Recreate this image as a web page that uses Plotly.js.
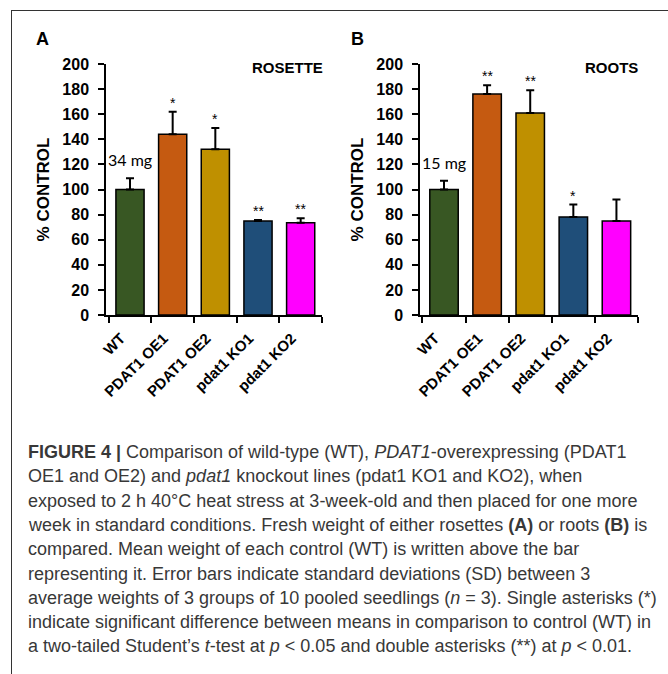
<!DOCTYPE html>
<html>
<head>
<meta charset="utf-8">
<script src="https://cdn.plot.ly/plotly-3.0.1.min.js"></script>
<style>html,body{margin:0;padding:0;background:#fff;}#chart{width:668px;height:674px;}</style>
</head>
<body>
<div id="chart"></div>
<script>
// ---- data ----
const categories = ["WT", "PDAT1 OE1", "PDAT1 OE2", "pdat1 KO1", "pdat1 KO2"];
const barColors = ["#385723", "#C55A11", "#BF9000", "#1F4E79", "#FF00FF"];
const rosetteValues = [100, 144, 132, 75, 73.5];
const rosetteErrors = [9, 18, 17, 0.7, 3.5];
const rosetteSig = ["", "*", "*", "**", "**"];
const rootValues = [100, 176, 161, 78, 75];
const rootErrors = [7, 7, 18, 10, 17];
const rootSig = ["", "**", "**", "*", ""];
const controlLabels = ["34 mg", "15 mg"];
const panelTitles = ["ROSETTE", "ROOTS"];
const panelLetters = ["A", "B"];
const captionLines = [
  "<b>FIGURE 4 |</b> Comparison of wild-type (WT), <i>PDAT1</i>-overexpressing (PDAT1",
  "OE1 and OE2) and <i>pdat1</i> knockout lines (pdat1 KO1 and KO2), when",
  "exposed to 2 h 40°C heat stress at 3-week-old and then placed for one more",
  "week in standard conditions. Fresh weight of either rosettes <b>(A)</b> or roots <b>(B)</b> is",
  "compared. Mean weight of each control (WT) is written above the bar",
  "representing it. Error bars indicate standard deviations (SD) between 3",
  "average weights of 3 groups of 10 pooled seedlings (<i>n</i> = 3). Single asterisks (*)",
  "indicate significant difference between means in comparison to control (WT) in",
  "a two-tailed Student’s <i>t</i>-test at <i>p</i> &lt; 0.05 and double asterisks (**) at <i>p</i> &lt; 0.01."
];

// ---- layout helpers ----
const W = 668, H = 674;
const px = v => v / W;
const py = v => 1 - v / H;
const AX = "Liberation Sans, Arial, sans-serif";

function barTrace(values, errors, xa, ya) {
  return {
    type: "bar", x: categories, y: values, xaxis: xa, yaxis: ya,
    marker: {color: barColors, line: {color: "#000", width: 1.5}},
    error_y: {type: "data", symmetric: false, array: errors, arrayminus: values.map(() => 0),
              color: "#000", thickness: 2, width: 4},
    hoverinfo: "x+y", showlegend: false
  };
}

const data = [
  barTrace(rosetteValues, rosetteErrors, "x", "y"),
  barTrace(rootValues, rootErrors, "x2", "y2")
];

function xAxis(domain, anchor) {
  return {
    domain: domain, anchor: anchor, type: "category",
    showline: true, linecolor: "#000", linewidth: 1.5,
    ticks: "outside", tickson: "boundaries", ticklen: 6, tickcolor: "#000", tickwidth: 1.5,
    tickangle: -45, tickfont: {family: AX, size: 15, color: "#000", weight: "bold"},
    ticklabelstandoff: 7, ticklabelshift: -9,
    showgrid: false, zeroline: false, fixedrange: true
  };
}
function yAxis(anchor) {
  return {
    domain: [py(315), py(64)], anchor: anchor, range: [0, 200], dtick: 20,
    showline: true, linecolor: "#000", linewidth: 1.5,
    ticks: "outside", ticklen: 6, tickcolor: "#000", tickwidth: 1.5,
    tickfont: {family: AX, size: 16, color: "#000", weight: "bold"},
    ticklabelstandoff: 6,
    showgrid: false, zeroline: false, fixedrange: true,
    title: {text: "% CONTROL", font: {family: AX, size: 17, color: "#000", weight: "bold"}, standoff: 8}
  };
}

const annotations = [];
function sigAnnotations(values, errors, sig, xr, yr) {
  categories.forEach((c, i) => {
    if (!sig[i]) return;
    annotations.push({xref: xr, yref: yr, x: c, y: values[i] + errors[i], text: sig[i],
      showarrow: false, yanchor: "bottom", yshift: -1,
      font: {family: AX, size: 14, color: "#000"}});
  });
}
sigAnnotations(rosetteValues, rosetteErrors, rosetteSig, "x", "y");
sigAnnotations(rootValues, rootErrors, rootSig, "x2", "y2");

annotations.push({xref: "x", yref: "y", x: categories[0], y: rosetteValues[0] + rosetteErrors[0],
  text: controlLabels[0], showarrow: false, yanchor: "bottom", yshift: 7,
  font: {family: "Lato, sans-serif", size: 16, color: "#000"}});
annotations.push({xref: "x2", yref: "y2", x: categories[0], y: rootValues[0] + rootErrors[0],
  text: controlLabels[1], showarrow: false, yanchor: "bottom", yshift: 7,
  font: {family: "Lato, sans-serif", size: 16, color: "#000"}});

// panel titles
annotations.push({xref: "paper", yref: "paper", x: px(325), y: py(67), text: panelTitles[0],
  showarrow: false, xanchor: "right", yanchor: "middle",
  font: {family: AX, size: 15, color: "#000", weight: "bold"}});
annotations.push({xref: "paper", yref: "paper", x: px(640), y: py(67), text: panelTitles[1],
  showarrow: false, xanchor: "right", yanchor: "middle",
  font: {family: AX, size: 15, color: "#000", weight: "bold"}});
// panel letters
annotations.push({xref: "paper", yref: "paper", x: px(42), y: py(39), text: panelLetters[0],
  showarrow: false, xanchor: "center", yanchor: "middle",
  font: {family: AX, size: 18, color: "#000", weight: "bold"}});
annotations.push({xref: "paper", yref: "paper", x: px(358), y: py(39), text: panelLetters[1],
  showarrow: false, xanchor: "center", yanchor: "middle",
  font: {family: AX, size: 18, color: "#000", weight: "bold"}});

// caption
captionLines.forEach((t, i) => {
  annotations.push({xref: "paper", yref: "paper", x: px(26), y: py(452 + i * 24.3), text: t,
    showarrow: false, xanchor: "left", yanchor: "middle", align: "left",
    font: {family: AX, size: 18, color: "#383838"}});
});

const layout = {
  width: W, height: H, autosize: false,
  margin: {l: 0, r: 0, t: 0, b: 0, pad: 0},
  paper_bgcolor: "#fff", plot_bgcolor: "rgba(0,0,0,0)",
  bargap: 0.34,
  xaxis: xAxis([px(106), px(322)], "y"),
  yaxis: yAxis("x"),
  xaxis2: xAxis([px(420), px(638)], "y2"),
  yaxis2: yAxis("x2"),
  annotations: annotations,
  shapes: [
    {type: "line", xref: "paper", yref: "paper", x0: px(11), x1: 1, y0: py(10.5), y1: py(10.5),
     line: {color: "#333", width: 1}},
    {type: "line", xref: "paper", yref: "paper", x0: px(11.5), x1: px(11.5), y0: py(10.5), y1: 0,
     line: {color: "#333", width: 1}}
  ]
};

Plotly.newPlot("chart", data, layout, {displayModeBar: false, staticPlot: false});
</script>
</body>
</html>
